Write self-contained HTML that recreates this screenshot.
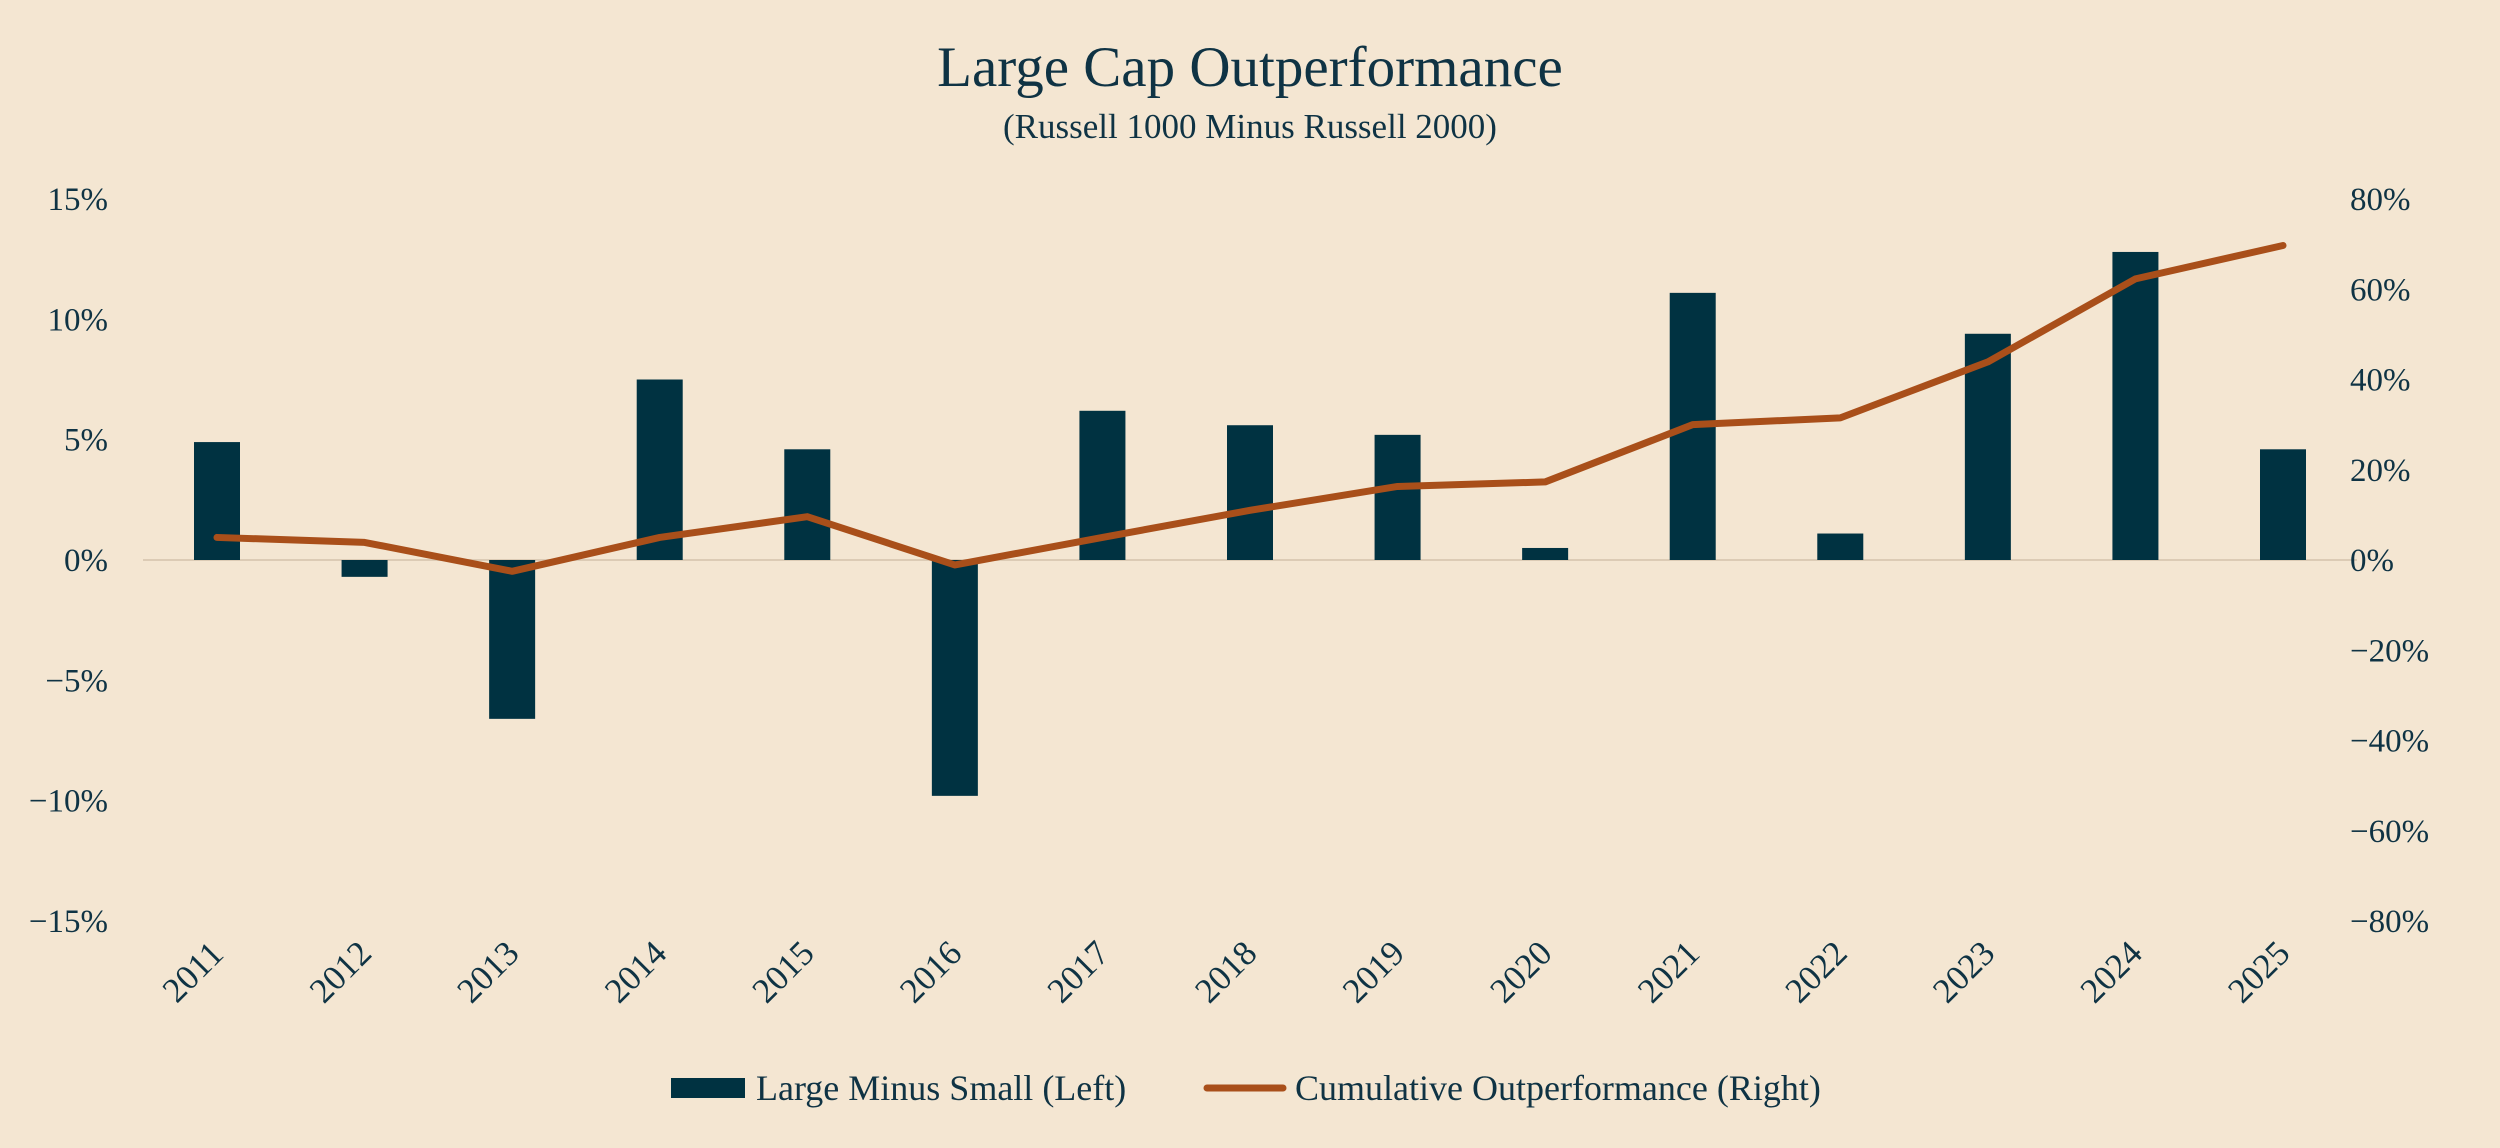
<!DOCTYPE html>
<html><head><meta charset="utf-8">
<style>
html,body{margin:0;padding:0;background:#f4e6d2;}
svg{display:block;font-family:"Liberation Serif",serif;}
</style></head>
<body>
<svg id="chart" width="2500" height="1148" viewBox="0 0 2500 1148" xmlns="http://www.w3.org/2000/svg">
<rect width="2500" height="1148" fill="#f4e6d2"/>
<text x="1250" y="86" text-anchor="middle" font-size="57" fill="#0f3344">Large Cap Outperformance</text>
<text x="1250" y="138" text-anchor="middle" font-size="35" fill="#0f3344">(Russell 1000 Minus Russell 2000)</text>
<g id="axes"></g>
<g id="bars"></g>
<g id="line"></g>
<g>
<rect x="671" y="1078" width="74" height="20" fill="#003241"/>
<text x="756" y="1100" font-size="36" fill="#0f3344">Large Minus Small (Left)</text>
<line x1="1207" y1="1088" x2="1283" y2="1088" stroke="#a94f1a" stroke-width="7" stroke-linecap="round"/>
<text x="1295" y="1100" font-size="36" fill="#0f3344">Cumulative Outperformance (Right)</text>
</g>
</svg>
<script>
const years = ["2011","2012","2013","2014","2015","2016","2017","2018","2019","2020","2021","2022","2023","2024","2025"];
const largeMinusSmall = [4.9,-0.7,-6.6,7.5,4.6,-9.8,6.2,5.6,5.2,0.5,11.1,1.1,9.4,12.8,4.6];
const cumulative = [5.0,3.9,-2.5,5.0,9.6,-1.1,5.0,11.0,16.3,17.3,30.0,31.5,43.9,62.3,69.7];
const leftTicks = [15,10,5,0,-5,-10,-15];
const rightTicks = [80,60,40,20,0,-20,-40,-60,-80];

const NS="http://www.w3.org/2000/svg";
const zeroY=560, leftPxPer=(560-199)/15, rightPxPer=(560-199)/80;
const yL=v=>zeroY-v*leftPxPer;
const yR=v=>zeroY-v*rightPxPer;
const x0=217, step=(2283-217)/(years.length-1);
const xC=i=>x0+i*step;
function mk(tag,attrs,parent){const e=document.createElementNS(NS,tag);for(const k in attrs)e.setAttribute(k,attrs[k]);parent.appendChild(e);return e;}
const axes=document.getElementById('axes'),bars=document.getElementById('bars'),line=document.getElementById('line');
const zl=mk('line',{x1:143,x2:2357,y1:zeroY,y2:zeroY,stroke:'#dccbb5','stroke-width':2},axes);


leftTicks.forEach(v=>{
  const t=mk('text',{x:108,y:yL(v)+11,'text-anchor':'end','font-size':33,fill:'#0f3344'},axes);
  t.textContent=(v<0?'\u2212'+(-v):v)+'%';
  
  
});
rightTicks.forEach(v=>{
  const t=mk('text',{x:2350,y:yR(v)+11,'text-anchor':'start','font-size':33,fill:'#0f3344'},axes);
  t.textContent=(v<0?'\u2212'+(-v):v)+'%';
  
  
});
years.forEach((y,i)=>{
  const x=xC(i)-16,yy=980;
  const t=mk('text',{x:x,y:yy,'text-anchor':'middle','font-size':35,fill:'#0f3344',transform:`rotate(-45 ${x} ${yy})`},axes);
  t.textContent=y;
  
  
});
const bw=46;
largeMinusSmall.forEach((v,i)=>{
  const top=Math.min(yL(v),zeroY),h=Math.abs(yL(v)-zeroY);
  const r=mk('rect',{x:xC(i)-bw/2,y:top,width:bw,height:h,fill:'#003241'},bars);
  
  
});
const p=mk('polyline',{points:cumulative.map((v,i)=>xC(i)+','+yR(v)).join(' '),fill:'none',stroke:'#a94f1a','stroke-width':7,'stroke-linejoin':'round','stroke-linecap':'round'},line);


</script>
</body></html>
